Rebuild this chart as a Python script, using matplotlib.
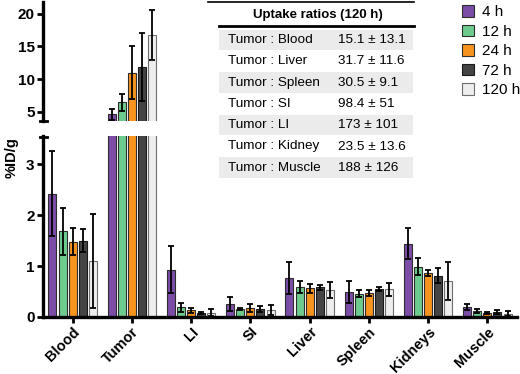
import matplotlib
matplotlib.use("Agg")
import matplotlib.pyplot as plt
import numpy as np
from matplotlib.patches import Patch, Rectangle
from matplotlib.lines import Line2D

plt.rcParams['font.family'] = ['Liberation Sans', 'DejaVu Sans']

organs = ["Blood", "Tumor", "LI", "SI", "Liver", "Spleen", "Kidneys", "Muscle"]
times = ["4 h", "12 h", "24 h", "72 h", "120 h"]
colors = ["#7B4DA6", "#6DCB8E", "#F7941D", "#444444", "#EEEEEE"]
edges = ["#2E2E2E", "#2E2E2E", "#2E2E2E", "#1A1A1A", "#6E6E6E"]

# %ID/g, rows = time points, columns = organs
means = [
    [2.42, 4.6, 0.93, 0.25, 0.76, 0.49, 1.44, 0.20],
    [1.68, 6.5, 0.19, 0.15, 0.59, 0.46, 0.99, 0.12],
    [1.48, 11.0, 0.13, 0.17, 0.56, 0.47, 0.86, 0.08],
    [1.50, 11.9, 0.07, 0.15, 0.58, 0.55, 0.81, 0.09],
    [1.10, 16.8, 0.08, 0.13, 0.53, 0.54, 0.71, 0.06],
]
errs = [
    [0.83, 0.8, 0.46, 0.14, 0.31, 0.21, 0.31, 0.06],
    [0.46, 1.3, 0.09, 0.02, 0.11, 0.06, 0.17, 0.04],
    [0.27, 4.1, 0.05, 0.08, 0.08, 0.06, 0.06, 0.02],
    [0.22, 5.2, 0.02, 0.06, 0.05, 0.04, 0.15, 0.04],
    [0.92, 3.8, 0.07, 0.10, 0.15, 0.12, 0.37, 0.05],
]

ratio_names = ["Tumor : Blood", "Tumor : Liver", "Tumor : Spleen", "Tumor : SI",
               "Tumor : LI", "Tumor : Kidney", "Tumor : Muscle"]
ratio_vals = ["15.1 \u00b1 13.1", "31.7 \u00b1 11.6", "30.5 \u00b1 9.1", "98.4 \u00b1 51",
              "173 \u00b1 101", "23.5 \u00b1 13.6", "188 \u00b1 126"]

W, H = 520, 374
fig = plt.figure(figsize=(5.2, 3.74), dpi=100)


def fx(px):
    return px / W


def fy(py):
    return 1 - py / H


ax_lo = fig.add_axes([fx(43), fy(317), fx(474), (317 - 136) / H])
ax_hi = fig.add_axes([fx(43), fy(121), fx(474), (121 - 2) / H])

x = np.arange(len(organs))
pitch = 0.17
bw = 0.135
for ax in (ax_lo, ax_hi):
    ax.patch.set_visible(False)
    for i in range(len(times)):
        pos = x + (i - 2) * pitch
        ax.bar(pos, means[i], bw, color=colors[i], edgecolor=edges[i], linewidth=0.8, zorder=2)
        ax.errorbar(pos, means[i], yerr=errs[i], fmt="none", ecolor="black",
                    elinewidth=1.3, capsize=2.3, capthick=1.3, zorder=3)
    ax.set_xlim(-0.5, 7.5)
    for s in ("top", "right"):
        ax.spines[s].set_visible(False)
    ax.spines["left"].set_linewidth(2.4)
    ax.tick_params(axis="y", width=2, length=4, labelsize=11, pad=2)

ax_lo.set_ylim(0, 3.55)
ax_lo.set_yticks([0, 1, 2, 3])
ax_lo.spines["bottom"].set_linewidth(2.4)
ax_lo.set_xticks(x)
ax_lo.set_xticklabels(organs, rotation=45, ha="right", rotation_mode="anchor",
                      fontsize=10.5, fontweight="bold")
ax_lo.tick_params(axis="x", width=2, length=4, pad=1.5)
for lab in ax_lo.get_yticklabels() + ax_lo.get_xticklabels():
    lab.set_fontweight("bold")

ax_hi.set_ylim(3.6, 21.8)
ax_hi.set_yticks([5, 10, 15, 20])
ax_hi.spines["bottom"].set_visible(False)
ax_hi.set_xticks([])
for lab in ax_hi.get_yticklabels():
    lab.set_fontweight("bold")

# break marks on the y axis
fig.add_artist(Line2D([fx(40), fx(47)], [fy(121), fy(121)], color="black", lw=2))
fig.add_artist(Line2D([fx(40), fx(47)], [fy(136.5), fy(136.5)], color="black", lw=2))

fig.text(fx(12), fy(158), "%ID/g", rotation=90, ha="center", va="center",
         fontsize=10.5, fontweight="bold")

# uptake ratio table
fig.add_artist(Line2D([fx(208), fx(414)], [fy(1.5), fy(1.5)], color="black", lw=1.2))
fig.text(fx(318), fy(15), "Uptake ratios (120 h)", ha="center", va="center",
         fontsize=9.5, fontweight="bold")
fig.add_artist(Line2D([fx(219), fx(414)], [fy(26), fy(26)], color="black", lw=2))
row_h = 21.3
for k, (nm, val) in enumerate(zip(ratio_names, ratio_vals)):
    yc = 40 + k * row_h
    if k % 2 == 0:
        fig.add_artist(Rectangle((fx(219), fy(yc + row_h / 2 - 0.5)), fx(194), row_h / H - 0.002,
                                 facecolor="#EBEBEB", edgecolor="none", zorder=-1))
    fig.text(fx(228), fy(yc), nm, ha="left", va="center", fontsize=9.7)
    fig.text(fx(338), fy(yc), val, ha="left", va="center", fontsize=9.7)

# legend
handles = [Patch(facecolor=c, edgecolor=e, linewidth=0.8) for c, e in zip(colors, edges)]
fig.legend(handles, times, loc="upper left", bbox_to_anchor=(fx(456), fy(-1)),
           frameon=False, fontsize=11, handlelength=0.8, handleheight=0.8,
           handletextpad=0.5, labelspacing=0.35, borderaxespad=0)

fig.savefig("out.png", dpi=100)
